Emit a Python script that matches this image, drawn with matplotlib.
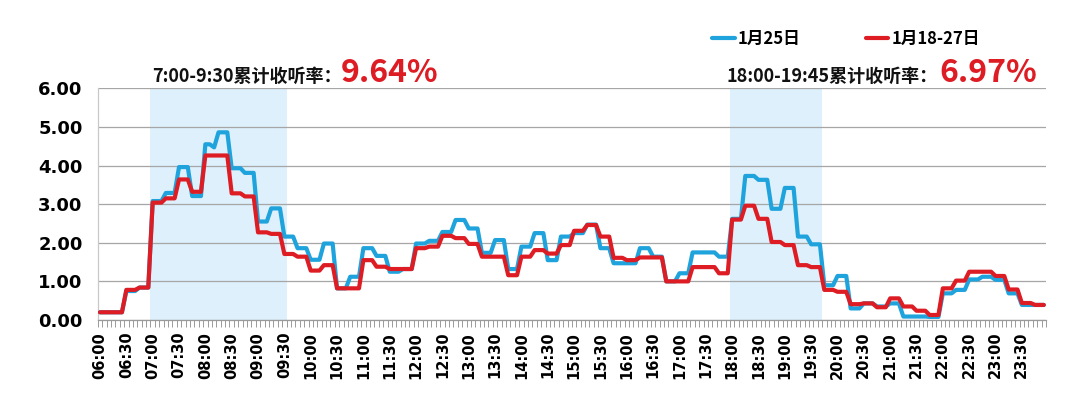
import matplotlib
matplotlib.use("Agg")
import matplotlib.pyplot as plt
import numpy as np
import pandas as pd
from matplotlib.ticker import FormatStrFormatter
from matplotlib.font_manager import FontProperties

# ---------------- data ----------------
times = pd.date_range("2000-01-01 06:00", "2000-01-01 23:55", freq="5min").strftime("%H:%M").tolist()

tick_labels = ["06:00", "06:30", "07:00", "07:30", "08:00", "08:30", "09:00", "09:30",
               "10:00", "10:30", "11:00", "11:30", "12:00", "12:30", "13:00", "13:30",
               "14:00", "14:30", "15:00", "15:30", "16:00", "16:30", "17:00", "17:30",
               "18:00", "18:30", "19:00", "19:30", "20:00", "20:30", "21:00", "21:30",
               "22:00", "22:30", "23:00", "23:30"]

band_starts = ["07:00", "18:00"]
band_ends = ["09:30", "19:40"]

series_names = ["1月25日", "1月18-27日"]

jan25 = [
    0.20, 0.20, 0.20, 0.20, 0.20, 0.20, 0.75, 0.75, 0.75, 0.84, 0.84, 0.84,  # 06
    3.08, 3.08, 3.08, 3.29, 3.29, 3.29, 3.96, 3.96, 3.96, 3.21, 3.21, 3.21,  # 07
    4.55, 4.55, 4.47, 4.86, 4.86, 4.86, 3.93, 3.93, 3.93, 3.81, 3.81, 3.81,  # 08
    2.55, 2.55, 2.55, 2.89, 2.89, 2.89, 2.16, 2.16, 2.16, 1.86, 1.86, 1.86,  # 09
    1.56, 1.56, 1.56, 1.98, 1.98, 1.98, 0.82, 0.82, 0.82, 1.12, 1.12, 1.12,  # 10
    1.86, 1.86, 1.86, 1.66, 1.66, 1.66, 1.25, 1.25, 1.25, 1.32, 1.32, 1.32,  # 11
    1.98, 1.98, 1.98, 2.05, 2.05, 2.05, 2.28, 2.28, 2.28, 2.59, 2.59, 2.59,  # 12
    2.37, 2.37, 2.37, 1.74, 1.74, 1.74, 2.07, 2.07, 2.07, 1.32, 1.32, 1.32,  # 13
    1.90, 1.90, 1.90, 2.25, 2.25, 2.25, 1.55, 1.55, 1.55, 2.16, 2.16, 2.16,  # 14
    2.25, 2.25, 2.25, 2.47, 2.47, 2.47, 1.86, 1.86, 1.86, 1.47, 1.47, 1.47,  # 15
    1.47, 1.47, 1.47, 1.86, 1.86, 1.86, 1.64, 1.64, 1.64, 1.00, 1.00, 1.00,  # 16
    1.21, 1.21, 1.21, 1.75, 1.75, 1.75, 1.75, 1.75, 1.75, 1.64, 1.64, 1.64,  # 17
    2.62, 2.62, 2.62, 3.73, 3.73, 3.73, 3.63, 3.63, 3.63, 2.88, 2.88, 2.88,  # 18
    3.42, 3.42, 3.42, 2.16, 2.16, 2.16, 1.96, 1.96, 1.96, 0.90, 0.90, 0.90,  # 19
    1.14, 1.14, 1.14, 0.30, 0.30, 0.30, 0.43, 0.43, 0.43, 0.35, 0.35, 0.35,  # 20
    0.43, 0.43, 0.43, 0.09, 0.09, 0.09, 0.09, 0.09, 0.09, 0.08, 0.08, 0.08,  # 21
    0.69, 0.69, 0.69, 0.78, 0.78, 0.78, 1.05, 1.05, 1.05, 1.12, 1.12, 1.12,  # 22
    1.04, 1.04, 1.04, 0.69, 0.69, 0.69, 0.39, 0.39, 0.39, 0.39, 0.39, 0.39,  # 23
]

jan18_27 = [
    0.20, 0.20, 0.20, 0.20, 0.20, 0.20, 0.78, 0.78, 0.78, 0.84, 0.84, 0.84,  # 06
    3.04, 3.04, 3.04, 3.15, 3.15, 3.15, 3.64, 3.64, 3.64, 3.32, 3.32, 3.32,  # 07
    4.26, 4.26, 4.26, 4.26, 4.26, 4.26, 3.28, 3.28, 3.28, 3.20, 3.20, 3.20,  # 08
    2.27, 2.27, 2.27, 2.23, 2.23, 2.23, 1.71, 1.71, 1.71, 1.64, 1.64, 1.64,  # 09
    1.28, 1.28, 1.28, 1.42, 1.42, 1.42, 0.82, 0.82, 0.82, 0.82, 0.82, 0.82,  # 10
    1.55, 1.55, 1.55, 1.38, 1.38, 1.38, 1.32, 1.32, 1.32, 1.32, 1.32, 1.32,  # 11
    1.86, 1.86, 1.86, 1.90, 1.90, 1.90, 2.18, 2.18, 2.18, 2.12, 2.12, 2.12,  # 12
    1.97, 1.97, 1.97, 1.64, 1.64, 1.64, 1.64, 1.64, 1.64, 1.16, 1.16, 1.16,  # 13
    1.64, 1.64, 1.64, 1.81, 1.81, 1.81, 1.72, 1.72, 1.72, 1.94, 1.94, 1.94,  # 14
    2.31, 2.31, 2.31, 2.46, 2.46, 2.46, 2.16, 2.16, 2.16, 1.61, 1.61, 1.61,  # 15
    1.55, 1.55, 1.55, 1.62, 1.62, 1.62, 1.62, 1.62, 1.62, 1.00, 1.00, 1.00,  # 16
    1.00, 1.00, 1.00, 1.37, 1.37, 1.37, 1.37, 1.37, 1.37, 1.21, 1.21, 1.21,  # 17
    2.60, 2.60, 2.60, 2.96, 2.96, 2.96, 2.62, 2.62, 2.62, 2.02, 2.02, 2.02,  # 18
    1.94, 1.94, 1.94, 1.42, 1.42, 1.42, 1.37, 1.37, 1.37, 0.78, 0.78, 0.78,  # 19
    0.73, 0.73, 0.73, 0.41, 0.41, 0.41, 0.43, 0.43, 0.43, 0.33, 0.33, 0.33,  # 20
    0.56, 0.56, 0.56, 0.35, 0.35, 0.35, 0.24, 0.24, 0.24, 0.13, 0.13, 0.13,  # 21
    0.82, 0.82, 0.82, 1.02, 1.02, 1.02, 1.25, 1.25, 1.25, 1.25, 1.25, 1.25,  # 22
    1.14, 1.14, 1.14, 0.79, 0.79, 0.79, 0.44, 0.44, 0.44, 0.39, 0.39, 0.39,  # 23
]

ann_labels = ["7:00-9:30累计收听率：", "18:00-19:45累计收听率："]
ann_values = ["9.64%", "6.97%"]

# ---------------- style ----------------
BLUE = "#1FA3DC"
RED = "#DD1C24"
BAND = "#DDF0FB"
GRID = "#A6A6A6"
CJK = ["Noto Sans CJK SC", "DejaVu Sans"]

fig = plt.figure(figsize=(10.8, 4.2), dpi=100)
ax = fig.add_axes([97.8 / 1080, 1 - 320 / 420, (1046 - 97.8) / 1080, (320 - 88.3) / 420])

x = np.arange(len(times))
pos = {t: i for i, t in enumerate(times)}

for s, e in zip(band_starts, band_ends):
    ax.axvspan(pos[s] - 0.5, pos[e] + 0.5, color=BAND, lw=0, zorder=0)

l1, = ax.plot(x, jan25, color=BLUE, lw=3.0, solid_joinstyle="round",
              solid_capstyle="round", zorder=3, label=series_names[0])
l2, = ax.plot(x, jan18_27, color=RED, lw=3.0, solid_joinstyle="round",
              solid_capstyle="round", zorder=4, label=series_names[1])

ax.set_xlim(-0.5, len(times) - 0.5)
ax.set_ylim(0, 6)
ax.set_yticks(np.arange(0, 6.01, 1.0))
ax.yaxis.set_major_formatter(FormatStrFormatter("%.2f"))
ax.grid(axis="y", color=GRID, lw=0.9)
ax.set_axisbelow(True)

ax.set_xticks([pos[t] for t in tick_labels])
ax.set_xticklabels(tick_labels, rotation=90, fontsize=10.5, fontweight="bold")
ax.set_xticks(np.arange(-0.5, len(times), 1.0), minor=True)
ax.tick_params(axis="x", which="major", length=0, pad=8.5)
ax.tick_params(axis="x", which="minor", length=5, width=0.7, color="#9A9A9A")
ax.tick_params(axis="y", length=0, pad=11, labelsize=13)
for lab in ax.get_yticklabels():
    lab.set_fontweight("bold")

for side in ["top", "right"]:
    ax.spines[side].set_visible(False)
ax.spines["left"].set_color("#C8C8C8")
ax.spines["left"].set_linewidth(0.9)
ax.spines["bottom"].set_color("#9A9A9A")
ax.spines["bottom"].set_linewidth(0.9)

leg_font = FontProperties(family=CJK, weight="bold", size=12)
fig.legend(handles=[l1, l2], labels=series_names, loc="center left",
           bbox_to_anchor=(712 / 1080, 1 - 39 / 420), ncol=2, frameon=False,
           prop=leg_font, handlelength=1.35, handletextpad=0.2,
           columnspacing=3.9, borderpad=0, borderaxespad=0)

base_y = 1 - 82 / 420
ann_x = [152 / 1080, 727 / 1080]
val_x = [341 / 1080, 939 / 1080]
for lx, vx, lab, val in zip(ann_x, val_x, ann_labels, ann_values):
    fig.text(lx, base_y, lab, fontsize=13, fontweight="bold", family=CJK,
             va="baseline", ha="left", color="#111111")
    fig.text(vx, base_y, val, fontsize=23, fontweight="bold", family=CJK,
             va="baseline", ha="left", color=RED)

fig.savefig("out.png", dpi=100)
